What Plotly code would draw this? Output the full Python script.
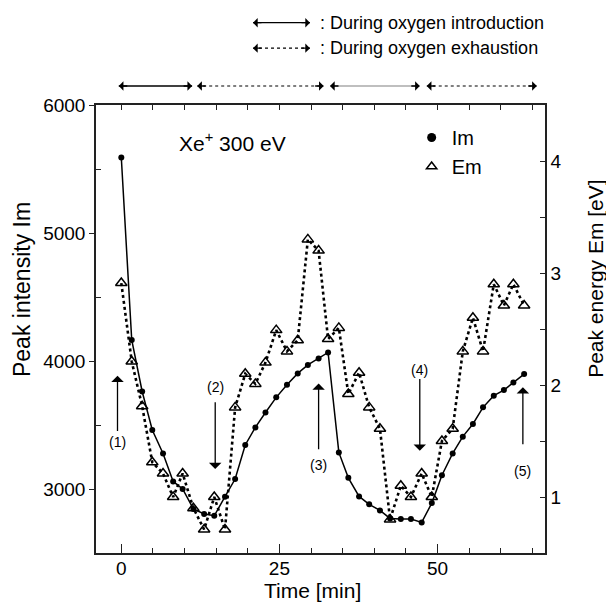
import plotly.graph_objects as go

# ---------------- data ----------------
time_min = [0, 1.65, 3.3, 4.9, 6.6, 8.2, 9.7, 11.4, 13.1, 14.7, 16.4, 18.0, 19.6, 21.2,
            22.8, 24.5, 26.2, 27.9, 29.5, 31.2, 32.7, 34.4, 35.9, 37.6, 39.2, 40.9,
            42.5, 44.2, 45.8, 47.5, 49.1, 50.7, 52.4, 54.0, 55.6, 57.2, 58.9, 60.5,
            62.0, 63.7]
peak_intensity_im = [5590, 4164, 3762, 3461, 3278, 3059, 3000, 2844, 2805, 2791, 2940,
                     3078, 3344, 3481, 3598, 3716, 3815, 3903, 3969, 4020, 4067, 3286,
                     3087, 2942, 2880, 2833, 2770, 2766, 2766, 2739, 2890, 3108, 3278,
                     3409, 3508, 3638, 3729, 3773, 3833, 3898]
peak_energy_em = [2.91, 2.21, 1.81, 1.31, 1.21, 1.00, 1.21, 0.90, 0.71, 1.00, 0.71, 1.80,
                  2.10, 2.01, 2.20, 2.49, 2.30, 2.40, 3.30, 3.20, 2.41, 2.51, 1.92, 2.11,
                  1.80, 1.61, 0.80, 1.10, 1.00, 1.21, 1.00, 1.50, 1.61, 2.30, 2.60, 2.30,
                  2.90, 2.71, 2.90, 2.71]

# phases (start, end) in minutes
intro_phases = [(-0.4, 11.2), (33.0, 47.2)]
exhaust_phases = [(12.0, 32.0), (48.3, 65.7)]

# numbered arrows: label, time, head Im, tail Im, label Im
marker_labels = ["(1)", "(2)", "(3)", "(4)", "(5)"]
marker_times = [-0.6, 14.85, 31.2, 47.2, 63.5]
marker_head = [3885, 3156, 3825, 3299, 3794]
marker_tail = [3442, 3690, 3299, 3872, 3338]
marker_text_y = [3370, 3800, 3190, 3930, 3140]

x_range = [-4, 67]
im_range = [2500, 6000]
em_range = [0.5, 4.5]

FONT = "Liberation Sans, Arial, Helvetica, sans-serif"
AX = "#222"

fig = go.Figure()

fig.add_trace(go.Scatter(
    x=time_min, y=peak_intensity_im, mode="lines+markers", name="Im",
    line=dict(color="black", width=1.5),
    marker=dict(symbol="circle", size=6, color="black"),
    showlegend=False, yaxis="y"))
fig.add_trace(go.Scatter(
    x=time_min, y=peak_energy_em, mode="lines+markers", name="Em",
    line=dict(color="black", width=2.6, dash="dot"),
    marker=dict(symbol="triangle-up-open", size=10, color="black", line=dict(width=1.5)),
    showlegend=False, yaxis="y2"))
# legend-only entries
fig.add_trace(go.Scatter(x=[None], y=[None], mode="markers", name="Im",
                         marker=dict(symbol="circle", size=9, color="black")))
fig.add_trace(go.Scatter(x=[None], y=[None], mode="markers", name="Em",
                         marker=dict(symbol="triangle-up-open", size=9, color="black",
                                     line=dict(width=1.5))))
# invisible trace to activate top axis
fig.add_trace(go.Scatter(x=x_range, y=[None, None], xaxis="x2", yaxis="y",
                         mode="lines", showlegend=False, hoverinfo="skip"))

shapes = []
annotations = []

ARROW_Y = 1.0424


def head(xv, yv, xref, dx):
    annotations.append(dict(x=xv, y=yv, xref=xref, yref="paper", ax=dx, ay=0,
                            axref="pixel", ayref="pixel", showarrow=True, text="",
                            arrowhead=1, arrowsize=1.2, arrowwidth=1.3,
                            arrowcolor="black", standoff=0))


for (a, b) in intro_phases:
    col = "black" if a < 20 else "#aaaaaa"
    shapes.append(dict(type="line", xref="x", yref="paper", x0=a, x1=b,
                       y0=ARROW_Y, y1=ARROW_Y, line=dict(color=col, width=1.6)))
    head(b, ARROW_Y, "x", -10)
    head(a, ARROW_Y, "x", 10)
for (a, b) in exhaust_phases:
    shapes.append(dict(type="line", xref="x", yref="paper", x0=a, x1=b,
                       y0=ARROW_Y, y1=ARROW_Y, line=dict(color="black", width=1.2, dash="dot")))
    head(b, ARROW_Y, "x", -10)
    head(a, ARROW_Y, "x", 10)

# key for arrows (top)
key_rows = [(1.1837, "solid", ": During oxygen introduction"),
            (1.1268, "dot", ": During oxygen exhaustion")]
for (yy, dash, txt) in key_rows:
    shapes.append(dict(type="line", xref="paper", yref="paper", x0=0.3497, x1=0.4766,
                       y0=yy, y1=yy, line=dict(color="black", width=1.3, dash=dash)))
    head(0.4766, yy, "paper", -10)
    head(0.3497, yy, "paper", 10)
    annotations.append(dict(x=0.4944, y=yy, xref="paper", yref="paper", text=txt,
                            showarrow=False, xanchor="left", yanchor="middle",
                            font=dict(size=18, color="black", family=FONT)))

# numbered arrows
for lab, t, h, tl, ly in zip(marker_labels, marker_times, marker_head, marker_tail, marker_text_y):
    annotations.append(dict(x=t, y=h, xref="x", yref="y", ax=t, ay=tl, axref="x", ayref="y",
                            showarrow=True, text="", arrowhead=1, arrowsize=1.6,
                            arrowwidth=1.3, arrowcolor="black", standoff=0))
    annotations.append(dict(x=t, y=ly, xref="x", yref="y", text=lab, showarrow=False,
                            xanchor="center", yanchor="middle",
                            font=dict(size=14, color="black", family=FONT)))

# inside label
annotations.append(dict(x=0.1797, y=0.918, xref="paper", yref="paper",
                        text="Xe<sup>+</sup> 300 eV", showarrow=False, xanchor="left",
                        yanchor="middle", font=dict(size=21, color="black", family=FONT)))

# axis titles
annotations.append(dict(x=0.483, y=-0.0826, xref="paper", yref="paper", text="Time [min]",
                        showarrow=False, xanchor="center", yanchor="middle",
                        font=dict(size=21, color="black", family=FONT)))
annotations.append(dict(x=-0.1648, y=0.587, xref="paper", yref="paper",
                        text="Peak intensity Im", textangle=-90, showarrow=False,
                        xanchor="center", yanchor="middle",
                        font=dict(size=23, color="black", family=FONT)))
annotations.append(dict(x=1.111, y=0.6116, xref="paper", yref="paper",
                        text="Peak energy Em [eV]", textangle=-90, showarrow=False,
                        xanchor="center", yanchor="middle",
                        font=dict(size=21, color="black", family=FONT)))

fig.update_layout(
    width=606, height=602,
    margin=dict(l=96, r=61, t=105, b=49),
    paper_bgcolor="white", plot_bgcolor="white",
    font=dict(family=FONT, color="black", size=19),
    shapes=shapes, annotations=annotations,
    showlegend=True,
    legend=dict(x=0.703, y=0.971, xanchor="left", yanchor="top",
                bgcolor="rgba(0,0,0,0)", font=dict(size=20, family=FONT),
                tracegroupgap=0, itemwidth=30),
    xaxis=dict(range=x_range, tickvals=[0, 25, 50], ticks="inside", ticklen=9,
               tickwidth=1.3, tickcolor=AX, showline=True, linewidth=1.5, linecolor=AX,
               showgrid=False, zeroline=False, tickfont=dict(size=19),
               ticklabelstandoff=-3,
               minor=dict(tickvals=[5, 10, 15, 20, 30, 35, 40, 45, 55, 60, 65],
                          ticks="inside", ticklen=5, tickwidth=1.3, tickcolor=AX)),
    xaxis2=dict(range=x_range, overlaying="x", side="top", tick0=0, dtick=5,
                ticks="inside", ticklen=5, tickwidth=1.3, tickcolor=AX,
                showticklabels=False, showline=True, linewidth=1.5, linecolor=AX,
                showgrid=False, zeroline=False),
    yaxis=dict(range=im_range, tickvals=[3000, 4000, 5000, 6000], ticks="outside",
               ticklen=5, tickwidth=1.3, tickcolor=AX, showline=True, linewidth=1.5,
               linecolor=AX, showgrid=False, zeroline=False, tickfont=dict(size=19),
               minor=dict(tickvals=[3500, 4500, 5500], ticks="inside", ticklen=5,
                          tickwidth=1.3, tickcolor=AX)),
    yaxis2=dict(range=em_range, overlaying="y", side="right", tickvals=[1, 2, 3, 4],
                ticks="inside", ticklen=5, tickwidth=1.3, tickcolor=AX, showline=True,
                linewidth=1.5, linecolor=AX, showgrid=False, zeroline=False,
                tickfont=dict(size=19),
                minor=dict(tickvals=[1.5, 2.5, 3.5], ticks="inside", ticklen=5,
                           tickwidth=1.3, tickcolor=AX)),
)

fig.write_html("out.html")
